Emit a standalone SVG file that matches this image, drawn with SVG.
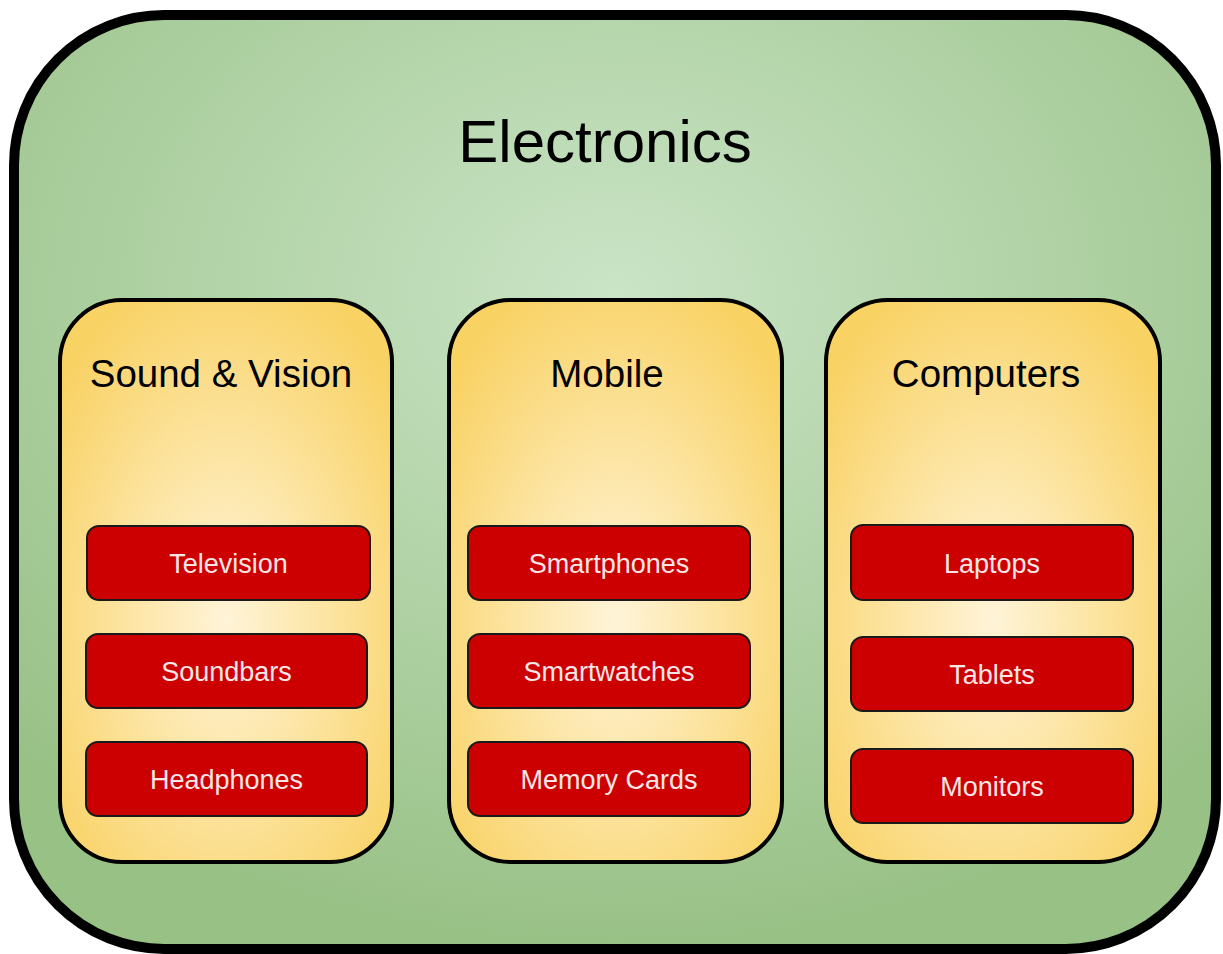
<svg xmlns="http://www.w3.org/2000/svg" width="1223" height="954" viewBox="0 0 1223 954">
  <defs>
    <radialGradient id="gOuter" cx="50%" cy="30%" r="70%">
      <stop offset="0" stop-color="#cae4c6"/>
      <stop offset="1" stop-color="#98c186"/>
    </radialGradient>
    <radialGradient id="gGroup" cx="50%" cy="57%" r="65%">
      <stop offset="0" stop-color="#fff4d8"/>
      <stop offset="1" stop-color="#f9d264"/>
    </radialGradient>
  </defs>
  <style>
    .outer { fill: url(#gOuter); stroke: #000; stroke-width: 10; }
    .group { fill: url(#gGroup); stroke: #000; stroke-width: 4; }
    .item { fill: #cc0000; stroke: #1a1a1a; stroke-width: 2; }
    .title { font-family: "Liberation Sans", Arial, sans-serif; font-size: 60px; fill: #000; text-anchor: middle; }
    .gtitle { font-family: "Liberation Sans", Arial, sans-serif; font-size: 38.5px; fill: #000; text-anchor: middle; }
    .label { font-family: "Liberation Sans", Arial, sans-serif; font-size: 27px; fill: #f6e6e6; text-anchor: middle; dominant-baseline: central; }
  </style>

  <!-- Container -->
  <g id="electronics">
    <rect class="outer" x="14" y="15" width="1202" height="934" rx="150" ry="150"/>
    <text class="title" x="605" y="162">Electronics</text>
  </g>

  <!-- Sound &amp; Vision column -->
  <g id="sound-vision">
    <rect class="group" x="60" y="300" width="332" height="562" rx="62" ry="62"/>
    <text class="gtitle" x="221" y="387">Sound &amp; Vision</text>
  </g>
  <g id="television">
    <rect class="item" x="87" y="526" width="283" height="74" rx="12" ry="12"/>
    <text class="label" x="228.5" y="564">Television</text>
  </g>
  <g id="soundbars">
    <rect class="item" x="86" y="634" width="281" height="74" rx="12" ry="12"/>
    <text class="label" x="226.5" y="672">Soundbars</text>
  </g>
  <g id="headphones">
    <rect class="item" x="86" y="742" width="281" height="74" rx="12" ry="12"/>
    <text class="label" x="226.5" y="780">Headphones</text>
  </g>

  <!-- Mobile column -->
  <g id="mobile">
    <rect class="group" x="449" y="300" width="333" height="562" rx="62" ry="62"/>
    <text class="gtitle" x="607" y="387">Mobile</text>
  </g>
  <g id="smartphones">
    <rect class="item" x="468" y="526" width="282" height="74" rx="12" ry="12"/>
    <text class="label" x="609" y="564">Smartphones</text>
  </g>
  <g id="smartwatches">
    <rect class="item" x="468" y="634" width="282" height="74" rx="12" ry="12"/>
    <text class="label" x="609" y="672">Smartwatches</text>
  </g>
  <g id="memory-cards">
    <rect class="item" x="468" y="742" width="282" height="74" rx="12" ry="12"/>
    <text class="label" x="609" y="780">Memory Cards</text>
  </g>

  <!-- Computers column -->
  <g id="computers">
    <rect class="group" x="826" y="300" width="334" height="562" rx="62" ry="62"/>
    <text class="gtitle" x="986" y="387">Computers</text>
  </g>
  <g id="laptops">
    <rect class="item" x="851" y="525" width="282" height="75" rx="12" ry="12"/>
    <text class="label" x="992" y="564">Laptops</text>
  </g>
  <g id="tablets">
    <rect class="item" x="851" y="637" width="282" height="74" rx="12" ry="12"/>
    <text class="label" x="992" y="675">Tablets</text>
  </g>
  <g id="monitors">
    <rect class="item" x="851" y="749" width="282" height="74" rx="12" ry="12"/>
    <text class="label" x="992" y="787">Monitors</text>
  </g>

  <!-- No connectors in this layout -->
  <g id="connectors"/>
</svg>
